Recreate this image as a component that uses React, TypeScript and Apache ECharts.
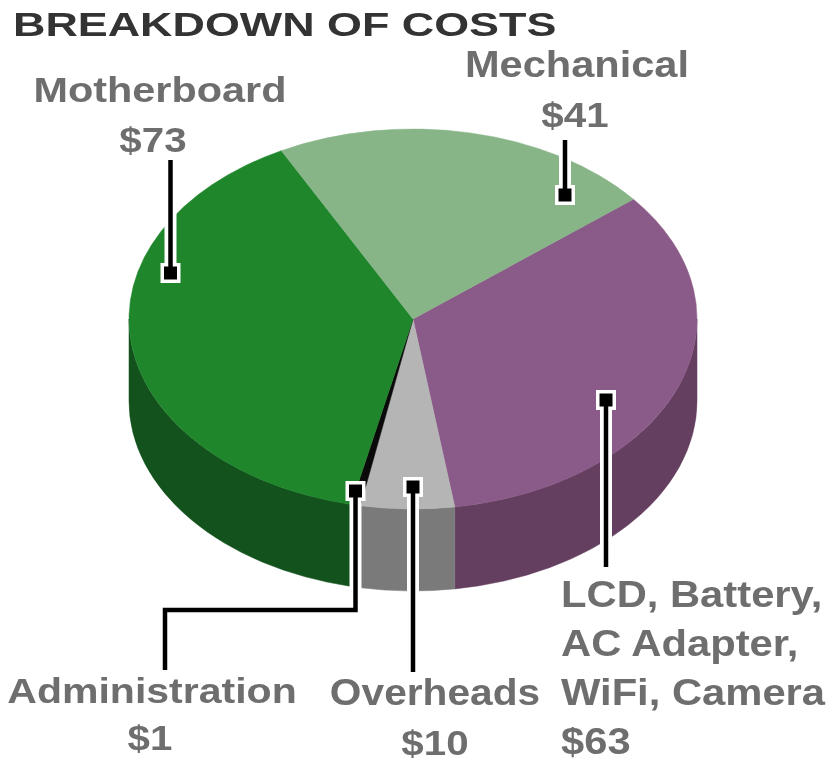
import React, { useEffect, useRef } from "react";
import * as echarts from "echarts";

const titleText = "BREAKDOWN OF COSTS";
const categories = ["LCD, Battery,\nAC Adapter,\nWiFi, Camera", "Overheads", "Administration", "Motherboard", "Mechanical"];
const values = [63, 10, 1, 73, 41];
const topColors = ["#8a5a88", "#b5b5b5", "#0a0a0a", "#1f862c", "#88b588"];
const sideColors = ["#643f60", "#7a7a7a", "#041a08", "#13521c", "#5f8060"];

const CX = 413, CY = 319, RX = 284, RY = 190, DEPTH = 82, START_DEG = 50.9;
const FONT = '"Liberation Sans", Arial, sans-serif';

const pt = (deg: number, dy = 0): [number, number] => {
  const r = (deg * Math.PI) / 180;
  return [CX + RX * Math.sin(r), CY - RY * Math.cos(r) + dy];
};

const total = values.reduce((a, b) => a + b, 0);
const cumulative = values.reduce<number[]>((acc, v) => [...acc, acc[acc.length - 1] + v], [0]);

function renderSlice(params: any, api: any) {
  const i = params.dataIndex;
  const a0 = START_DEG + (cumulative[i] / total) * 360;
  const a1 = a0 + (api.value(0) / total) * 360;
  const p0 = pt(a0), p1 = pt(a1);
  const large = a1 - a0 > 180 ? 1 : 0;
  const children: any[] = [];
  const s0 = Math.max(a0, 90), s1 = Math.min(a1, 270);
  if (s1 > s0) {
    const t0 = pt(s0), t1 = pt(s1), b0 = pt(s0, DEPTH), b1 = pt(s1, DEPTH);
    children.push({
      type: "path",
      shape: {
        pathData: `M${t0[0]} ${t0[1]} A${RX} ${RY} 0 0 1 ${t1[0]} ${t1[1]} L${b1[0]} ${b1[1]} A${RX} ${RY} 0 0 0 ${b0[0]} ${b0[1]} Z`,
      },
      style: { fill: sideColors[i], stroke: sideColors[i], lineWidth: 0.5 },
    });
  }
  children.push({
    type: "path",
    shape: {
      pathData: `M${CX} ${CY} L${p0[0]} ${p0[1]} A${RX} ${RY} 0 ${large} 1 ${p1[0]} ${p1[1]} Z`,
    },
    style: { fill: topColors[i], stroke: topColors[i], lineWidth: 0.5 },
  });
  return { type: "group", children };
}

const leader = (pts: number[][]) => {
  const m = pts[0];
  return [
    { type: "polyline", z: 10, shape: { points: pts }, style: { fill: "none", stroke: "#fff", lineWidth: 12 } },
    { type: "rect", z: 10, shape: { x: m[0] - 10, y: m[1] - 10, width: 20, height: 20 }, style: { fill: "#fff" } },
    { type: "polyline", z: 11, shape: { points: pts }, style: { fill: "none", stroke: "#000", lineWidth: 4.5 } },
    { type: "rect", z: 11, shape: { x: m[0] - 6.5, y: m[1] - 6.5, width: 13, height: 13 }, style: { fill: "#000" } },
  ];
};

const label = (text: string, x: number, y: number, align: string, sx: number, fill = "#6e6e6e", size = 36) => ({
  type: "text",
  z: 12,
  x,
  y,
  scaleX: sx,
  style: { text, fill, font: `bold ${size}px ${FONT}`, textAlign: align, textVerticalAlign: "middle", lineHeight: 49 },
});

export default function App() {
  const ref = useRef<HTMLDivElement>(null);
  useEffect(() => {
    document.body.style.margin = "0";
    const chart = echarts.init(ref.current!, undefined, { renderer: "svg" });
    chart.setOption({
      animation: false,
      backgroundColor: "#fff",
      series: [
        {
          type: "custom",
          coordinateSystem: "none",
          silent: true,
          renderItem: renderSlice,
          data: values.map((v, i) => ({ name: categories[i], value: [v] })),
        },
      ],
      graphic: {
        elements: [
          ...leader([[170.5, 273], [170.5, 160]]),
          ...leader([[565, 195], [565, 140]]),
          ...leader([[606, 400], [606, 567]]),
          ...leader([[413, 487], [413, 672]]),
          ...leader([[355.5, 491], [355.5, 610], [165, 610], [165, 670]]),
          label(titleText, 13, 24, "left", 1.32, "#333", 34),
          label(categories[3], 160, 89, "center", 1.15),
          label(`$${values[3]}`, 153, 139, "center", 1.12),
          label(categories[4], 577, 65, "center", 1.155),
          label(`$${values[4]}`, 575, 114, "center", 1.12),
          label(categories[2], 152, 690, "center", 1.14),
          label(`$${values[2]}`, 150, 737, "center", 1.12),
          label(categories[1], 435, 692, "center", 1.13),
          label(`$${values[1]}`, 435, 742, "center", 1.12),
          label(`${categories[0]}\n$${values[0]}`, 561, 668, "left", 1.16),
        ],
      },
    });
    return () => chart.dispose();
  }, []);
  return <div ref={ref} style={{ width: 834, height: 768, background: "#fff", filter: "blur(0.7px)" }} />;
}
